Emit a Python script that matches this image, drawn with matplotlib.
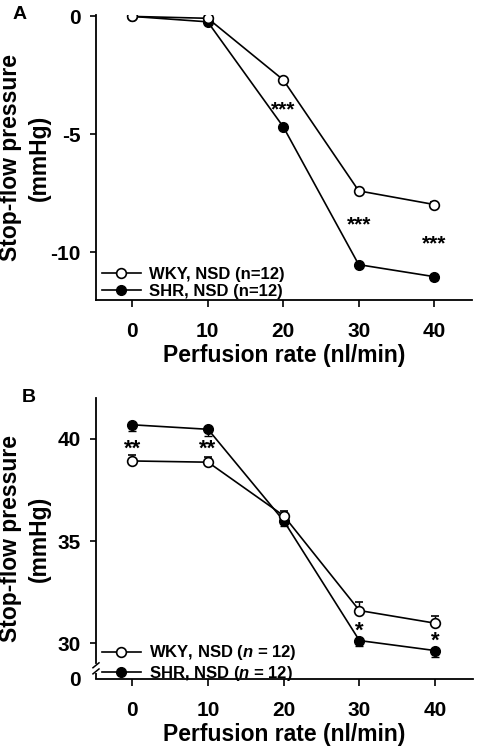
import matplotlib
matplotlib.use("Agg")
import matplotlib.pyplot as plt
from matplotlib.lines import Line2D

plt.rcParams['font.family'] = ['Liberation Sans', 'DejaVu Sans']
plt.rcParams['font.weight'] = 'bold'
plt.rcParams['mathtext.fontset'] = 'custom'
plt.rcParams['mathtext.bfit'] = 'Liberation Sans:bold:italic'

rates = [0, 10, 20, 30, 40]
xtick_labels = ['0', '10', '20', '30', '40']

# Panel A
a_wky = [0.0, -0.08, -2.69, -7.40, -7.98]
a_wky_se = [0.05, 0.06, 0.10, 0.12, 0.10]
a_shr = [0.0, -0.23, -4.68, -10.53, -11.04]
a_shr_se = [0.05, 0.06, 0.10, 0.10, 0.15]
a_yticks = [0, -5, -10]
a_star_x = [20, 30, 40]
a_star_y = [-3.95, -8.85, -9.65]
a_star_txt = ['***', '***', '***']

# Panel B
b_wky = [38.92, 38.86, 36.24, 31.60, 30.98]
b_wky_se = [0.27, 0.25, 0.25, 0.40, 0.37]
b_shr = [40.69, 40.47, 35.99, 30.13, 29.64]
b_shr_se = [0.30, 0.33, 0.25, 0.29, 0.33]
b_yticks = [30, 35, 40]
b_star_x = [0, 10, 30, 40]
b_star_y = [39.5, 39.5, 30.6, 30.1]
b_star_txt = ['**', '**', '*', '*']

fig = plt.figure(figsize=(4.78, 7.5), dpi=100)
axA = fig.add_axes([0.2008, 0.60, 0.7866, 0.38])
axB = fig.add_axes([0.2008, 0.0947, 0.7887, 0.3746])

lw = 1.2
ms = 7

def style(ax):
    for s in ['top', 'right']:
        ax.spines[s].set_visible(False)
    for s in ['left', 'bottom']:
        ax.spines[s].set_linewidth(1.3)
    ax.tick_params(axis='both', width=1.2, labelsize=15)
    ax.tick_params(axis='y', length=4, pad=7)
    ax.tick_params(axis='x', length=5, pad=11)
    ax.set_xlim(-4.8, 45)
    ax.set_xticks(rates)
    ax.set_xticklabels(xtick_labels, fontweight='bold')
    ax.set_xlabel('Perfusion rate (nl/min)', fontsize=16.5, fontweight='bold', labelpad=2)
    ax.set_ylabel('Stop-flow pressure\n(mmHg)', fontsize=16.5, fontweight='bold',
                  linespacing=1.3)
    ax.yaxis.set_label_coords(-0.12, 0.5)

def handles():
    h1 = Line2D([], [], color='black', lw=lw, marker='o', ms=ms, mfc='white',
                mec='black', mew=1.2)
    h2 = Line2D([], [], color='black', lw=lw, marker='o', ms=ms, mfc='black',
                mec='black')
    return [h1, h2]

# ---- Panel A
style(axA)
axA.errorbar(rates, a_shr, yerr=[a_shr_se, [0]*5], color='black', lw=lw, marker='o',
             ms=ms, mfc='black', mec='black', capsize=3, elinewidth=1, capthick=1,
             zorder=3)
axA.errorbar(rates, a_wky, yerr=[[0]*5, a_wky_se], color='black', lw=lw, marker='o',
             ms=ms, mfc='white', mec='black', mew=1.2, capsize=3, elinewidth=1, capthick=1,
             zorder=4)
axA.set_ylim(-12.03, 0.06)
axA.set_yticks(a_yticks)
axA.set_yticklabels([str(v) for v in a_yticks], fontweight='bold')
for x, y, t in zip(a_star_x, a_star_y, a_star_txt):
    axA.text(x, y, t, ha='center', va='center', fontsize=15, fontweight='bold')
axA.legend(handles(), ['WKY, NSD (n=12)', 'SHR, NSD (n=12)'], loc='lower left',
           bbox_to_anchor=(-0.01, -0.03), frameon=False,
           prop={'size': 12, 'weight': 'bold'}, handlelength=2.3,
           handletextpad=0.5, labelspacing=0.1, borderaxespad=0.2)
fig.text(0.027, 0.992, 'A', fontsize=14, fontweight='bold', ha='left', va='top')

# ---- Panel B
style(axB)
axB.errorbar(rates, b_shr, yerr=[b_shr_se, [0]*5], color='black', lw=lw, marker='o',
             ms=ms, mfc='black', mec='black', capsize=3, elinewidth=1, capthick=1,
             zorder=3)
axB.errorbar(rates, b_wky, yerr=[[0]*5, b_wky_se], color='black', lw=lw, marker='o',
             ms=ms, mfc='white', mec='black', mew=1.2, capsize=3, elinewidth=1, capthick=1,
             zorder=4)
ybot = 28.25
axB.set_ylim(ybot, 42.0)
axB.set_yticks([ybot] + b_yticks)
axB.set_yticklabels(['0'] + [str(v) for v in b_yticks], fontweight='bold')
axB.yaxis.get_major_ticks()[0].tick1line.set_visible(False)
for x, y, t in zip(b_star_x, b_star_y, b_star_txt):
    axB.text(x, y, t, ha='center', va='center', fontsize=16, fontweight='bold')
axB.legend(handles(), ['WKY, NSD ($\\mathbfit{n}$ = 12)', 'SHR, NSD ($\\mathbfit{n}$ = 12)'],
           loc='lower left', bbox_to_anchor=(-0.01, -0.05), frameon=False,
           prop={'size': 12, 'weight': 'bold'}, handlelength=2.3,
           handletextpad=0.5, labelspacing=0.1, borderaxespad=0.2)
# broken axis
axB.spines['left'].set_bounds(29.03, 42.0)
axB.plot([-4.8, -4.8], [ybot, 28.54], color='black', lw=1.3, clip_on=False,
         solid_capstyle='butt')
tr = axB.get_yaxis_transform()
for yy in [28.92, 28.62]:
    axB.plot([-0.008, 0.008], [yy - 0.12, yy + 0.12], transform=tr, color='black',
             lw=1.1, clip_on=False)
fig.text(0.045, 0.482, 'B', fontsize=14, fontweight='bold', ha='left', va='top')

fig.savefig('out.png', dpi=100)
